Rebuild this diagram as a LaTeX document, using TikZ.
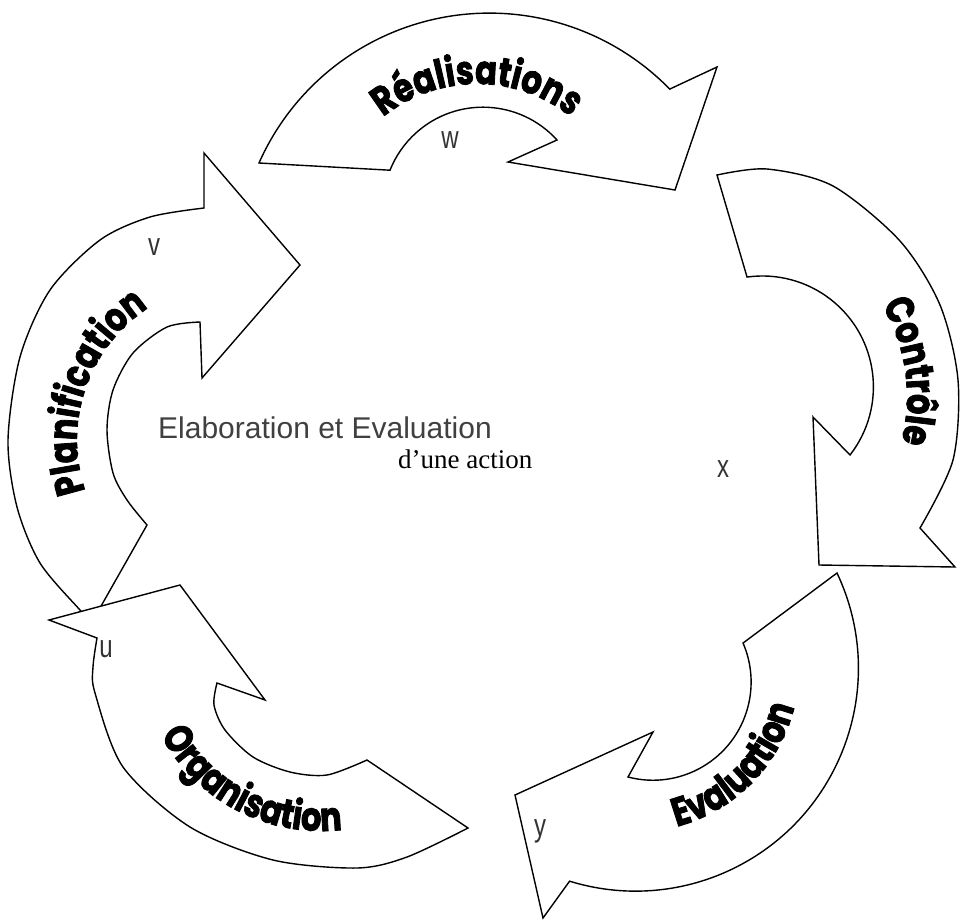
\documentclass[tikz,border=0pt]{standalone}
\usepackage{fontspec}
\usetikzlibrary{decorations.text}
\setmainfont{Liberation Serif}
\newfontfamily\arrowfont{Poppins}[FakeStretch=0.8, BoldFeatures={FakeBold=2}]
\newfontfamily\thinfont{Liberation Sans}
\newfontfamily\letterfont{Liberation Sans}[FakeStretch=0.75]

\tikzset{
  arrowshape/.style={draw, fill=white, line width=1.4pt, line join=miter},
  arrowlabel/.style={decorate, decoration={text along path, text align=center,
      text={|\arrowfont\bfseries\fontsize{40}{40}\selectfont|#1}}},
  letter/.style={font=\letterfont\fontsize{32}{32}\selectfont, text=black!80,
      anchor=base, inner sep=0pt}
}

\begin{document}
\begin{tikzpicture}[x=1pt, y=1pt]
  \useasboundingbox (0,0) rectangle (961,-919);

  % Planification
  \draw[arrowshape] plot[smooth] coordinates {(92,-622) (80,-610) (40,-563) (17,-507) (8,-440) (20,-357) (50,-290) (100,-240) (150,-217) (204,-208)}
    -- (204,-153) -- (300,-265) -- (202,-378) -- (200,-322)
    -- plot[smooth] coordinates {(200,-322) (167,-327) (133,-353) (113,-390) (107,-430) (113,-473) (127,-500) (147,-525)}
    -- cycle;
  % Organisation
  \draw[arrowshape] plot[smooth] coordinates {(468,-828) (407,-857) (357,-868) (273,-860) (190,-827) (123,-767) (95,-693) (93,-667) (97,-638)}
    -- (49,-620) -- (180,-585) -- (265,-700) -- (217,-683)
    -- plot[smooth] coordinates {(217,-683) (214,-705) (225,-730) (253,-757) (290,-772) (327,-775) (367,-760)}
    -- cycle;
  % Realisations
  \draw[arrowshape] (259,-163) arc[start angle=156.1, end angle=44.3, radius=252]
    -- (717,-67) -- (675,-190) -- (508,-162) -- (557,-140)
    arc[start angle=42.2, end angle=158.3, radius=100] -- cycle;
  % Controle
  \draw[arrowshape] plot[smooth] coordinates {(717,-175) (767,-169) (833,-186) (900,-241) (940,-305) (958,-380) (953,-460) (920,-528)}
    -- (955,-567) -- (819,-565) -- (813,-417) -- (850,-455)
    arc[start angle=-37.9, end angle=98, radius=110.9] -- cycle;
  % Evaluation
  \draw[arrowshape] (837,-573) arc[start angle=25.3, end angle=-107.2, radius=222.9]
    -- (543,-918) -- (515,-795) -- (653,-732) -- (628,-777)
    arc[start angle=-104.7, end angle=23.4, radius=98.2] -- cycle;

  % labels along the arrows
  \path[arrowlabel=Réalisations] ([shift={(140:150)}]477,-234) arc[start angle=140, end angle=40, radius=150];
  \path[arrowlabel=Contrôle] ([shift={(60:180)}]727,-397) arc[start angle=60, end angle=-44, radius=180];
  \path[arrowlabel=Evaluation] ([shift={(-104:164)}]635,-668) arc[start angle=-104, end angle=15, radius=164];
  \path[arrowlabel=Organisation] ([shift={(-172:182)}]321,-649) arc[start angle=-172, end angle=-63, radius=182];
  \path[arrowlabel=Planification] ([shift={(-140:158)}]235,-440) arc[start angle=-140, end angle=-258, radius=158];

  % centre
  \node[font=\thinfont\fontsize{30}{30}\selectfont, text=black!75, anchor=base west, inner sep=0pt] (title) at (158,-438) {Elaboration et Evaluation};
  \node[font=\fontsize{27}{27}\selectfont, anchor=base west, inner sep=0pt] (subtitle) at (398,-468) {d’une action};

  \node[letter] (lblw) at (450,-148) {w};
  \node[letter] (lblv) at (154,-255) {v};
  \node[letter] (lblx) at (723,-477) {x};
  \node[letter] (lbly) at (540,-836) {y};
  \node[letter] (lblu) at (106,-657) {u};
\end{tikzpicture}
\end{document}
